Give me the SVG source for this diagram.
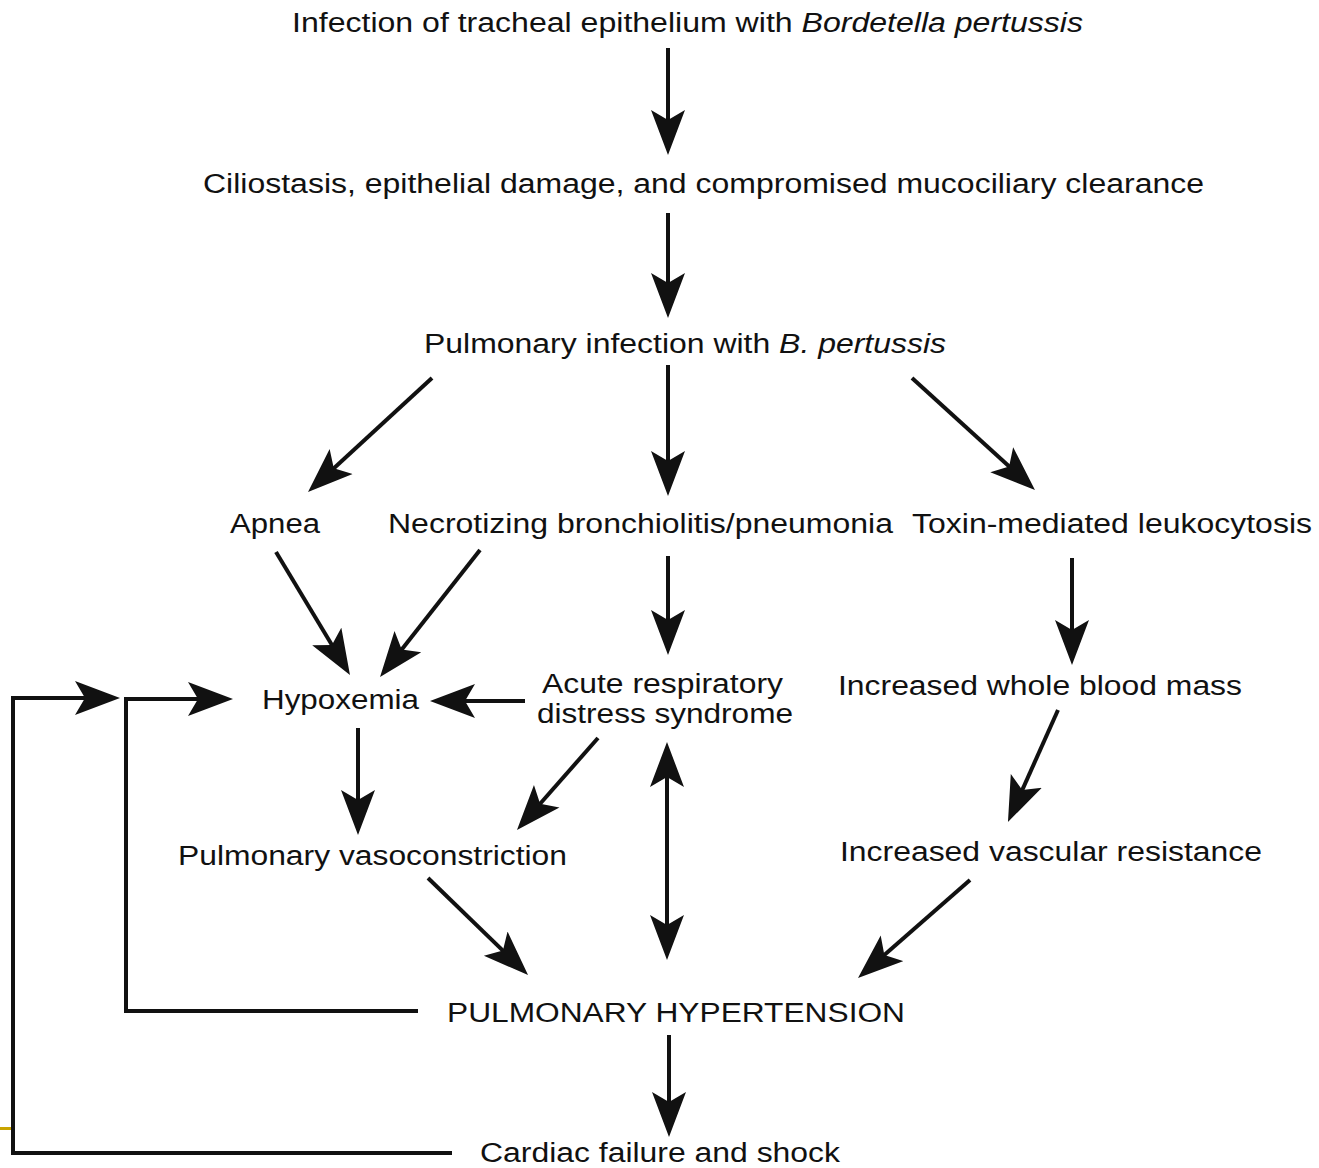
<svg xmlns="http://www.w3.org/2000/svg" width="1319" height="1168" viewBox="0 0 1319 1168">
<style>
text{font-family:"Liberation Sans",Arial,Helvetica,sans-serif;font-size:27px;fill:#111;}
.it{font-style:italic;}
.c{stroke:#111;stroke-width:4;fill:none;marker-end:url(#ah);}
.fb{stroke:#111;stroke-width:4;fill:none;marker-end:url(#ah);}
</style>
<defs>
<marker id="ah" viewBox="0 -18 46 36" refX="15" refY="0" markerWidth="46" markerHeight="36" markerUnits="userSpaceOnUse" orient="auto-start-reverse">
<path d="M45,0 L0,-17 L10,0 L0,17 Z" fill="#111"/>
</marker>
</defs>
<rect x="0" y="1127" width="12" height="3" fill="#c9a400"/>
<g id="connectors">
<line class="c" x1="668" y1="48" x2="668" y2="125"/>
<line class="c" x1="668" y1="213" x2="668" y2="288"/>
<line class="c" x1="668" y1="365" x2="668" y2="466"/>
<line class="c" x1="432" y1="378" x2="330.1" y2="471.7"/>
<line class="c" x1="912" y1="378" x2="1012.8" y2="469.8"/>
<line class="c" x1="668" y1="556" x2="668" y2="625"/>
<line class="c" x1="1072" y1="558" x2="1072" y2="635"/>
<line class="c" x1="276" y1="552" x2="334.5" y2="649.3"/>
<line class="c" x1="480" y1="550" x2="398.6" y2="653.4"/>
<line class="c" x1="525" y1="701" x2="460" y2="701"/>
<line class="c" x1="358" y1="728" x2="358" y2="805"/>
<line class="c" x1="598" y1="738" x2="536.8" y2="807.5"/>
<line class="c" x1="667" y1="772" x2="667" y2="930" style="marker-start:url(#ah)"/>
<line class="c" x1="1058" y1="710" x2="1020.2" y2="794.6"/>
<line class="c" x1="428" y1="878" x2="506.5" y2="954.1"/>
<line class="c" x1="970" y1="880" x2="880.6" y2="958.2"/>
<line class="c" x1="669" y1="1035" x2="669" y2="1107"/>
<path class="fb" d="M418,1011 H126 V699 H203"/>
<path class="fb" d="M452,1153 H13 V698 H90"/>
</g>
<g id="n1"><text x="292" y="32" textLength="791" lengthAdjust="spacingAndGlyphs">Infection of tracheal epithelium with <tspan class="it">Bordetella pertussis</tspan></text></g>
<g id="n2"><text x="203" y="193" textLength="1001" lengthAdjust="spacingAndGlyphs">Ciliostasis, epithelial damage, and compromised mucociliary clearance</text></g>
<g id="n3"><text x="424" y="353" textLength="522" lengthAdjust="spacingAndGlyphs">Pulmonary infection with <tspan class="it">B. pertussis</tspan></text></g>
<g id="n4"><text x="230" y="533" textLength="90" lengthAdjust="spacingAndGlyphs">Apnea</text></g>
<g id="n5"><text x="388" y="533" textLength="505" lengthAdjust="spacingAndGlyphs">Necrotizing bronchiolitis/pneumonia</text></g>
<g id="n6"><text x="912" y="533" textLength="400" lengthAdjust="spacingAndGlyphs">Toxin-mediated leukocytosis</text></g>
<g id="n7"><text x="262" y="709" textLength="157" lengthAdjust="spacingAndGlyphs">Hypoxemia</text></g>
<g id="n8"><text x="542" y="693" textLength="241" lengthAdjust="spacingAndGlyphs">Acute respiratory</text><text x="537" y="723" textLength="256" lengthAdjust="spacingAndGlyphs">distress syndrome</text></g>
<g id="n9"><text x="838" y="695" textLength="404" lengthAdjust="spacingAndGlyphs">Increased whole blood mass</text></g>
<g id="n10"><text x="178" y="865" textLength="389" lengthAdjust="spacingAndGlyphs">Pulmonary vasoconstriction</text></g>
<g id="n11"><text x="840" y="861" textLength="422" lengthAdjust="spacingAndGlyphs">Increased vascular resistance</text></g>
<g id="n12"><text x="447" y="1022" textLength="458" lengthAdjust="spacingAndGlyphs">PULMONARY HYPERTENSION</text></g>
<g id="n13"><text x="480" y="1162" textLength="360" lengthAdjust="spacingAndGlyphs">Cardiac failure and shock</text></g>
</svg>
